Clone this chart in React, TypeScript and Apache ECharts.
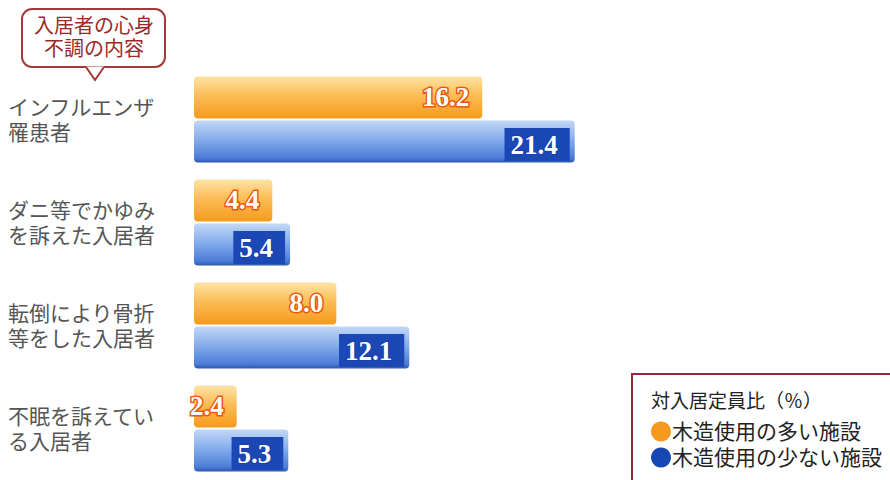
import React, { useEffect, useRef } from "react";
import * as echarts from "echarts";

const categories = [
  "インフルエンザ\n罹患者",
  "ダニ等でかゆみ\nを訴えた入居者",
  "転倒により骨折\n等をした入居者",
  "不眠を訴えてい\nる入居者",
];
const seriesNames = ["木造使用の多い施設", "木造使用の少ない施設"];
const woodHigh = [16.2, 4.4, 8.0, 2.4];
const woodLow = [21.4, 5.4, 12.1, 5.3];

export default function App() {
  const ref = useRef<HTMLDivElement>(null);
  useEffect(() => {
    if (!ref.current) return;
    const chart = echarts.init(ref.current, null, { renderer: "svg" });
    const jp = "'Liberation Sans', 'Noto Sans CJK JP', sans-serif";
    const orangeGrad = new echarts.graphic.LinearGradient(0, 0, 0, 1, [
      { offset: 0, color: "#fde3a6" },
      { offset: 0.45, color: "#fcbd55" },
      { offset: 1, color: "#f59a1c" },
    ]);
    const blueGrad = new echarts.graphic.LinearGradient(0, 0, 0, 1, [
      { offset: 0, color: "#c2d8f6" },
      { offset: 0.5, color: "#7fa8ea" },
      { offset: 0.9, color: "#4a7bd6" },
      { offset: 1, color: "#2b56ad" },
    ]);
    chart.setOption({
      animation: false,
      backgroundColor: "#ffffff",
      grid: { left: 194, top: 68, width: 427, height: 416, containLabel: false },
      xAxis: { type: "value", min: 0, max: 24, show: false },
      yAxis: {
        type: "category",
        data: categories,
        inverse: true,
        axisLine: { show: false },
        axisTick: { show: false },
        splitLine: { show: false },
        axisLabel: {
          align: "left",
          margin: 186,
          fontSize: 21,
          lineHeight: 25,
          color: "#555555",
          fontFamily: jp,
        },
      },
      legend: {
        orient: "vertical",
        left: 646,
        top: 416,
        icon: "circle",
        itemWidth: 20,
        itemHeight: 20,
        itemGap: 5,
        textStyle: { fontSize: 21, color: "#222222", fontFamily: jp, padding: [0, 0, 0, -4] },
        data: [
          { name: seriesNames[0], itemStyle: { color: "#f59a1f" } },
          { name: seriesNames[1], itemStyle: { color: "#1747b5" } },
        ],
      },
      series: [
        {
          name: seriesNames[0],
          type: "bar",
          data: woodHigh,
          barWidth: 42,
          barGap: "5%",
          itemStyle: { color: orangeGrad, borderRadius: 4 },
          label: {
            show: true,
            position: "insideRight",
            offset: [-8, 0],
            formatter: (p: any) => p.value.toFixed(1),
            fontFamily: "'Liberation Serif', serif",
            fontWeight: "bold",
            fontSize: 27,
            color: "#ffffff",
            textBorderColor: "#ea5a0c",
            textBorderWidth: 3,
          },
        },
        {
          name: seriesNames[1],
          type: "bar",
          data: woodLow,
          barWidth: 42,
          itemStyle: { color: blueGrad, borderRadius: 4 },
          label: {
            show: true,
            position: "insideRight",
            offset: [0, 3],
            formatter: (p: any) => p.value.toFixed(1),
            fontFamily: "'Liberation Serif', serif",
            fontWeight: "bold",
            fontSize: 27,
            color: "#ffffff",
            textBorderColor: "#1a3fae",
            textBorderWidth: 2,
            backgroundColor: "#1c48b6",
            padding: [4, 12, 2, 6],
          },
        },
      ],
      graphic: [
        {
          type: "rect",
          shape: { x: 22, y: 9, width: 143, height: 58, r: 10 },
          style: { fill: "#ffffff", stroke: "#a33a3a", lineWidth: 2 },
          z: 10,
        },
        {
          type: "polygon",
          shape: { points: [[86, 67], [104, 67], [95, 80]] },
          style: { fill: "#ffffff", stroke: "#ffffff", lineWidth: 1 },
          z: 11,
        },
        {
          type: "polyline",
          shape: { points: [[86, 67], [95, 80], [104, 67]] },
          style: { fill: null, stroke: "#a33a3a", lineWidth: 2 },
          z: 12,
        },
        {
          type: "text",
          x: 94,
          y: 14,
          style: {
            text: "入居者の心身\n不調の内容",
            fontSize: 20,
            lineHeight: 23,
            fill: "#9b2a2a",
            fontFamily: jp,
            align: "center",
          },
          z: 13,
        },
        {
          type: "rect",
          shape: { x: 632, y: 374, width: 270, height: 120 },
          style: { fill: "#ffffff", stroke: "#8a2a3a", lineWidth: 2 },
          z: -1,
        },
        {
          type: "text",
          x: 651,
          y: 392,
          style: {
            text: "対入居定員比（％）",
            fontSize: 19,
            fill: "#222222",
            fontFamily: jp,
          },
          z: 5,
        },
      ],
    });
    return () => chart.dispose();
  }, []);
  return (
    <div
      ref={ref}
      style={{ position: "fixed", left: 0, top: 0, width: 890, height: 480 }}
    />
  );
}
